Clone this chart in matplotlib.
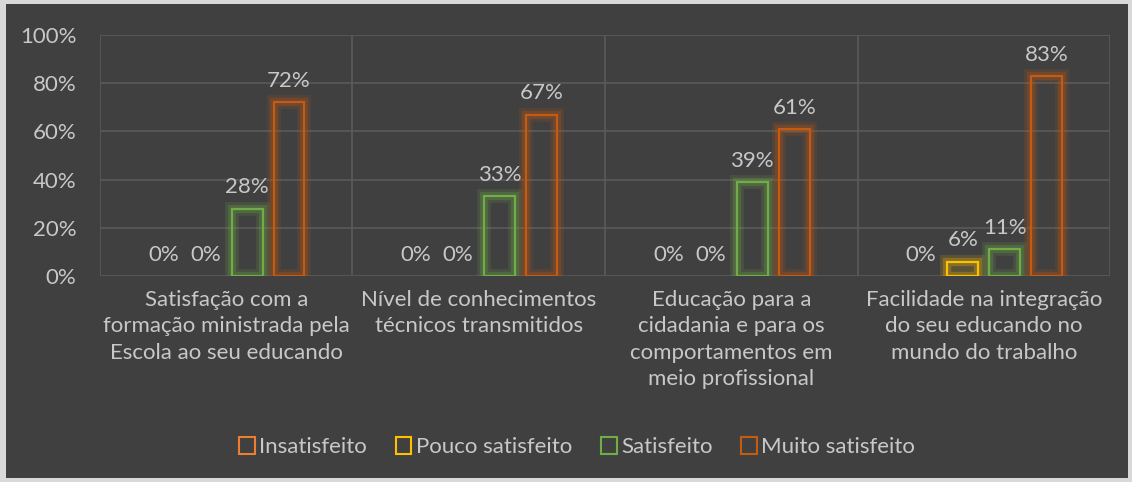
import matplotlib.pyplot as plt
import matplotlib.patheffects as pe
from matplotlib.patches import Patch
import numpy as np

categories = ['Satisfação com a\nformação ministrada pela\nEscola ao seu educando',
              'Nível de conhecimentos\ntécnicos transmitidos',
              'Educação para a\ncidadania e para os\ncomportamentos em\nmeio profissional',
              'Facilidade na integração\ndo seu educando no\nmundo do trabalho']
series = ['Insatisfeito', 'Pouco satisfeito', 'Satisfeito', 'Muito satisfeito']
insatisfeito = [0, 0, 0, 0]
pouco = [0, 0, 0, 6]
satisfeito = [28, 33, 39, 11]
muito = [72, 67, 61, 83]
colors = ['#ED7D31', '#FFC000', '#70AD47', '#C55A11']

bg = '#404040'
txt = '#C8C8C8'
grid = '#5A5A5A'
fs = 16
plt.rcParams['font.family'] = ['Lato', 'DejaVu Sans']

fig = plt.figure(figsize=(11.32, 4.82), dpi=100, facecolor='#D9D9D9')
fig.patches.append(plt.Rectangle((6 / 1132, 4 / 482), 1122 / 1132, 474 / 482,
                                 transform=fig.transFigure, facecolor=bg,
                                 edgecolor='none', zorder=-5))
ax = fig.add_axes([0.0883, 0.4274, 0.8923, 0.5])
ax.set_facecolor(bg)

x = np.arange(len(categories))
width = 0.122
step = 0.166
data = [insatisfeito, pouco, satisfeito, muito]
for i, (vals, c) in enumerate(zip(data, colors)):
    pos = x + (i - 1.5) * step
    bars = ax.bar(pos, vals, width=width, facecolor='none', edgecolor=c,
                  linewidth=1.6, zorder=3)
    for b, v in zip(bars, vals):
        if v == 0:
            b.set_visible(False)
        b.set_path_effects([pe.Stroke(linewidth=10, foreground=c, alpha=0.15),
                            pe.Stroke(linewidth=6, foreground=c, alpha=0.25),
                            pe.Normal()])
    for p, v in zip(pos, vals):
        ax.annotate(f'{v}%', xy=(p, v), xytext=(0, 8), textcoords='offset points',
                    ha='center', va='bottom', color=txt, fontsize=fs)

ax.set_xlim(-0.5, 3.5)
ax.set_ylim(0, 100)
ax.set_yticks(range(0, 101, 20))
ax.set_yticklabels([f'{t}%' for t in range(0, 101, 20)])
ax.set_xticks(x)
ax.set_xticklabels(categories, linespacing=1.4)
ax.tick_params(length=0, colors=txt, labelsize=fs)
ax.tick_params(axis='y', pad=17)
ax.tick_params(axis='x', pad=10)
ax.yaxis.grid(True, color=grid, linewidth=1.2, zorder=0)
for b in np.arange(-0.5, 4, 1):
    ax.axvline(b, color=grid, linewidth=1.2, zorder=0)
for s in ax.spines.values():
    s.set_visible(False)

handles = [Patch(facecolor='none', edgecolor=c, linewidth=1.5, label=s)
           for s, c in zip(series, colors)]
fig.legend(handles=handles, loc='center', bbox_to_anchor=(0.51, 0.073), ncol=4,
           frameon=False, fontsize=fs, labelcolor=txt, handlelength=0.7,
           handleheight=0.8, handletextpad=0.2, columnspacing=1.3)

fig.savefig('out.png', dpi=100, facecolor=fig.get_facecolor())
